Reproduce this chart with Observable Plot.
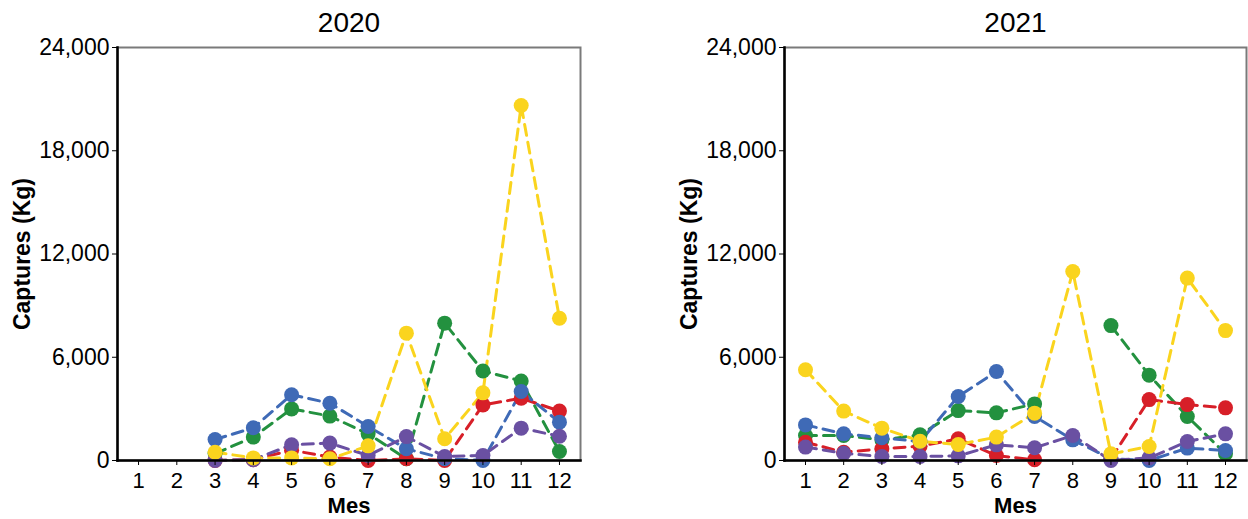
<!DOCTYPE html>
<html><head><meta charset="utf-8">
<script src="https://cdn.jsdelivr.net/npm/d3@7"></script>
<script src="https://cdn.jsdelivr.net/npm/@observablehq/plot@0.6"></script>
<style>
body{margin:0;background:#fff;}
#wrap{display:flex;width:1248px;height:519px;}
#wrap svg{font-family:"Liberation Sans",Arial,sans-serif;color:#000;}
</style></head><body><div id="wrap"></div>
<script>
// ---- data ----
const months = [1,2,3,4,5,6,7,8,9,10,11,12];
const years = ["2020","2021"];
const yTicks = [0,6000,12000,18000,24000];
const yMax = 24000;
const seriesNames = ["Sèrie verda","Sèrie vermella","Sèrie blava","Sèrie lila","Sèrie groga"];
const seriesColors = ["#23913F","#D71F28","#3F6AB6","#6A50A2","#FAD41E"];

const green2020  = [null,null,400,1360,3000,2580,1550,100,7980,5200,4620,520];
const red2020    = [null,null,0,50,600,200,0,100,0,3230,3620,2870];
const blue2020   = [null,null,1220,1900,3820,3330,1975,680,100,0,4010,2230];
const purple2020 = [null,null,0,50,910,1010,290,1390,230,290,1880,1410];
const yellow2020 = [null,null,480,150,150,100,850,7400,1260,3930,20630,8270];

const green2021  = [1450,1450,1200,1490,2900,2770,3290,null,7840,4960,2560,390];
const red2021    = [1060,480,680,830,1260,290,40,null,100,3540,3250,3060];
const blue2021   = [2070,1550,1320,1100,3720,5170,2560,1200,100,0,720,580];
const purple2021 = [780,420,230,230,270,910,740,1450,0,150,1100,1550];
const yellow2021 = [5270,2870,1880,1120,930,1360,2750,10980,390,810,10600,7550];

const valuesByYear = {
  "2020": [green2020, red2020, blue2020, purple2020, yellow2020],
  "2021": [green2021, red2021, blue2021, purple2021, yellow2021]
};
const yLabel = "Captures (Kg)";
const xLabel = "Mes";

// ---- chart ----
function rowsFor(year) {
  const rows = [];
  valuesByYear[year].forEach((vals, si) => {
    months.forEach((m, i) => rows.push({series: seriesNames[si], month: m, value: vals[i]}));
  });
  return rows;
}

const pad = (d3.max(months) - d3.min(months)) * 0.05;
const xDomain = [d3.min(months) - pad, d3.max(months) + pad];

function panel(year, marginLeft, marginRight) {
  const rows = rowsFor(year);
  return Plot.plot({
    width: 624, height: 519,
    marginLeft, marginRight, marginTop: 47, marginBottom: 59,
    style: {fontFamily: "'Liberation Sans', Arial, sans-serif", color: "#000", background: "#fff"},
    x: {domain: xDomain},
    y: {domain: [0, yMax]},
    color: {domain: seriesNames, range: seriesColors},
    marks: [
      Plot.line(rows, {x: "month", y: "value", z: "series", stroke: "series",
        strokeWidth: 3, strokeDasharray: "11,7", curve: "linear"}),
      Plot.dot(rows.filter(d => d.value != null), {x: "month", y: "value", fill: "series", r: 7.5}),
      Plot.frame({stroke: "#7a7a7a", strokeWidth: 2}),
      Plot.frame({anchor: "left", stroke: "#000", strokeWidth: 2.5}),
      Plot.frame({anchor: "bottom", stroke: "#000", strokeWidth: 2.5}),
      Plot.axisY({ticks: yTicks, tickFormat: d3.format(","), tickSize: 5, tickPadding: 3,
        fontSize: 23, label: null}),
      Plot.axisX({ticks: months, tickFormat: d => d, tickSize: 5, tickPadding: 7,
        fontSize: 22, label: null}),
      Plot.text([year], {text: d => d, frameAnchor: "top", textAnchor: "middle", lineAnchor: "middle",
        dy: -24, fontSize: 28, fill: "#000"}),
      Plot.text([xLabel], {text: d => d, frameAnchor: "bottom", textAnchor: "middle", lineAnchor: "middle",
        dy: 45, fontSize: 22, fontWeight: "bold", fill: "#000"}),
      Plot.text([yLabel], {text: d => d, frameAnchor: "left", textAnchor: "middle", lineAnchor: "middle",
        dx: -95, rotate: -90, fontSize: 23, fontWeight: "bold", fill: "#000"})
    ]
  });
}

const wrap = document.getElementById("wrap");
wrap.appendChild(panel(years[0], 117, 44));
wrap.appendChild(panel(years[1], 160, 2));
</script>
</body></html>
